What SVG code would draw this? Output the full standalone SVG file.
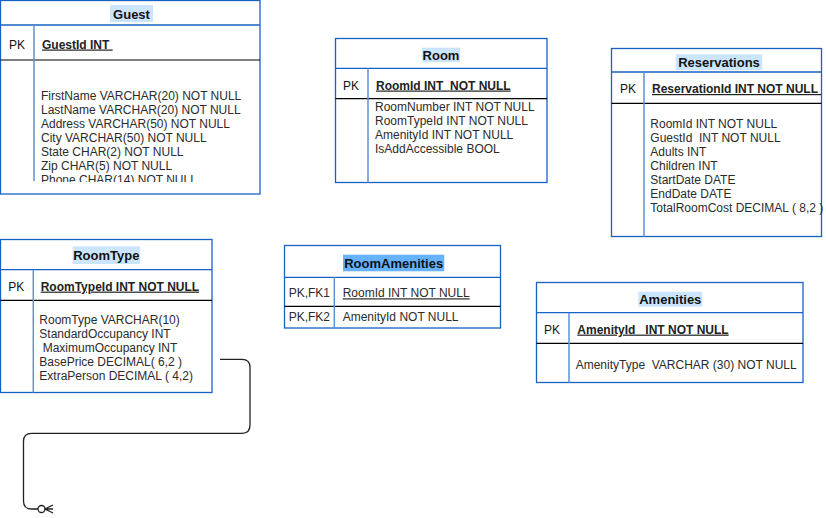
<svg xmlns="http://www.w3.org/2000/svg" width="826" height="518" viewBox="0 0 826 518">
<style>
.box{fill:#fff;stroke:#1762c2;stroke-width:1.3}
.sep{stroke:#1762c2;stroke-width:1.3}
.pkl{stroke:#000;stroke-width:1.2}
.div{stroke:#5e92d8;stroke-width:1.5}
.hl{fill:#cce5ff}
.hl2{fill:#66b2ff}
text{font-family:"Liberation Sans",Arial,sans-serif;font-size:12px;fill:#2b2b2b;white-space:pre}
.t{font-size:13px;font-weight:bold;fill:#111;text-anchor:middle}
.pk{fill:#111}
.pkf{font-weight:bold;text-decoration:underline;fill:#222}
.ul{text-decoration:underline}
.conn{fill:none;stroke:#222;stroke-width:1.3}
</style>
<defs>
<clipPath id="gc"><rect x="35" y="61" width="224" height="121"/></clipPath>
</defs>

<g id="guest">
<rect class="box" x="0.5" y="0.5" width="259.5" height="193.5"/>
<line class="sep" x1="0.5" y1="25" x2="260" y2="25"/>
<line class="pkl" x1="0.5" y1="60" x2="260" y2="60"/>
<line class="div" x1="34" y1="25" x2="34" y2="181"/>
<rect class="hl" x="110" y="5" width="43" height="17"/>
<text class="t" x="131.5" y="18.5">Guest</text>
<text class="pk" x="9" y="48.5">PK</text>
<text class="pkf" x="42" y="48.5">GuestId INT </text>
<g clip-path="url(#gc)">
<text x="41" y="99.5">FirstName VARCHAR(20) NOT NULL</text>
<text x="41" y="113.5">LastName VARCHAR(20) NOT NULL</text>
<text x="41" y="127.5">Address VARCHAR(50) NOT NULL</text>
<text x="41" y="141.5">City VARCHAR(50) NOT NULL</text>
<text x="41" y="155.5">State CHAR(2) NOT NULL</text>
<text x="41" y="169.5">Zip CHAR(5) NOT NULL</text>
<text x="41" y="183.5">Phone CHAR(14) NOT NULL</text>
</g>
</g>

<g id="room">
<rect class="box" x="335.5" y="38.5" width="211.5" height="144"/>
<line class="sep" x1="335.5" y1="68.3" x2="547" y2="68.3"/>
<line class="pkl" x1="335.5" y1="98.7" x2="547" y2="98.7"/>
<line class="div" x1="368" y1="68.3" x2="368" y2="182.5"/>
<rect class="hl" x="422" y="47.7" width="38" height="14.5"/>
<text class="t" x="441" y="59.5">Room</text>
<text class="pk" x="343" y="89.5">PK</text>
<text class="pkf" x="376" y="89.5">RoomId INT  NOT NULL</text>
<text x="375" y="111">RoomNumber INT NOT NULL</text>
<text x="375" y="125">RoomTypeId INT NOT NULL</text>
<text x="375" y="139">AmenityId INT NOT NULL</text>
<text x="375" y="153">IsAddAccessible BOOL</text>
</g>

<g id="reservations">
<rect class="box" x="611.5" y="48.5" width="210" height="188"/>
<line class="sep" x1="611.5" y1="72" x2="821.5" y2="72"/>
<line class="pkl" x1="611.5" y1="103.3" x2="821.5" y2="103.3"/>
<line class="div" x1="644" y1="72" x2="644" y2="236.5"/>
<rect class="hl" x="675.7" y="54.3" width="86.6" height="15.7"/>
<text class="t" x="719" y="66.5">Reservations</text>
<text class="pk" x="620" y="93">PK</text>
<text class="pkf" x="652" y="93">ReservationId INT NOT NULL </text>
<text x="650.3" y="128">RoomId INT NOT NULL</text>
<text x="650.3" y="142">GuestId  INT NOT NULL</text>
<text x="650.3" y="156">Adults INT</text>
<text x="650.3" y="170">Children INT</text>
<text x="650.3" y="184">StartDate DATE</text>
<text x="650.3" y="198">EndDate DATE</text>
<text x="650.3" y="212">TotalRoomCost DECIMAL ( 8,2 )</text>
</g>

<g id="roomtype">
<rect class="box" x="0.5" y="239.5" width="211.5" height="153"/>
<line class="sep" x1="0.5" y1="269.7" x2="212" y2="269.7"/>
<line class="pkl" x1="0.5" y1="300.3" x2="212" y2="300.3"/>
<line class="div" x1="33.3" y1="269.7" x2="33.3" y2="392.5"/>
<rect class="hl" x="72.7" y="246.3" width="67.3" height="17.7"/>
<text class="t" x="106.3" y="260">RoomType</text>
<text class="pk" x="8.3" y="290.6">PK</text>
<text class="pkf" x="40.7" y="290.6">RoomTypeId INT NOT NULL</text>
<text x="39.3" y="324">RoomType VARCHAR(10)</text>
<text x="39.3" y="338">StandardOccupancy INT</text>
<text x="39.3" y="352"> MaximumOccupancy INT</text>
<text x="39.3" y="366">BasePrice DECIMAL( 6,2 )</text>
<text x="39.3" y="380">ExtraPerson DECIMAL ( 4,2)</text>
</g>

<g id="roomamenities">
<rect class="box" x="284.5" y="245.5" width="216" height="82.5"/>
<line class="sep" x1="284.5" y1="277.3" x2="500.5" y2="277.3"/>
<line class="pkl" x1="284.5" y1="306.3" x2="500.5" y2="306.3"/>
<line class="div" x1="334.3" y1="277.3" x2="334.3" y2="328"/>
<rect class="hl2" x="343" y="254.7" width="101.3" height="16.6"/>
<text class="t" x="393.7" y="267.5">RoomAmenities</text>
<text x="288.7" y="297.3">PK,FK1</text>
<text class="ul" x="342.7" y="297.3">RoomId INT NOT NULL</text>
<text x="288.7" y="321.3">PK,FK2</text>
<text x="342.7" y="321.3">AmenityId NOT NULL</text>
</g>

<g id="amenities">
<rect class="box" x="536.5" y="282.5" width="266.5" height="100"/>
<line class="sep" x1="536.5" y1="312.7" x2="803" y2="312.7"/>
<line class="pkl" x1="536.5" y1="343.3" x2="803" y2="343.3"/>
<line class="div" x1="569" y1="312.7" x2="569" y2="382.5"/>
<rect class="hl" x="638.3" y="291.7" width="64" height="15"/>
<text class="t" x="670.3" y="303.5">Amenities</text>
<text class="pk" x="544" y="333.6">PK</text>
<text class="pkf" x="577.3" y="333.6">AmenityId   INT NOT NULL</text>
<text x="575.7" y="369.3">AmenityType  VARCHAR (30) NOT NULL</text>
</g>

<g id="connectors">
<path class="conn" d="M220,359.3 H242 Q250,359.3 250,367.3 V425.3 Q250,433.3 242,433.3 H31.5 Q23.5,433.3 23.5,441.3 V501 Q23.5,509 31.5,509 H38"/>
<circle class="conn" cx="41.5" cy="509" r="3.5"/>
<path class="conn" d="M53,505 L45,509 L53,513 M45,509 H53"/>
</g>
</svg>
